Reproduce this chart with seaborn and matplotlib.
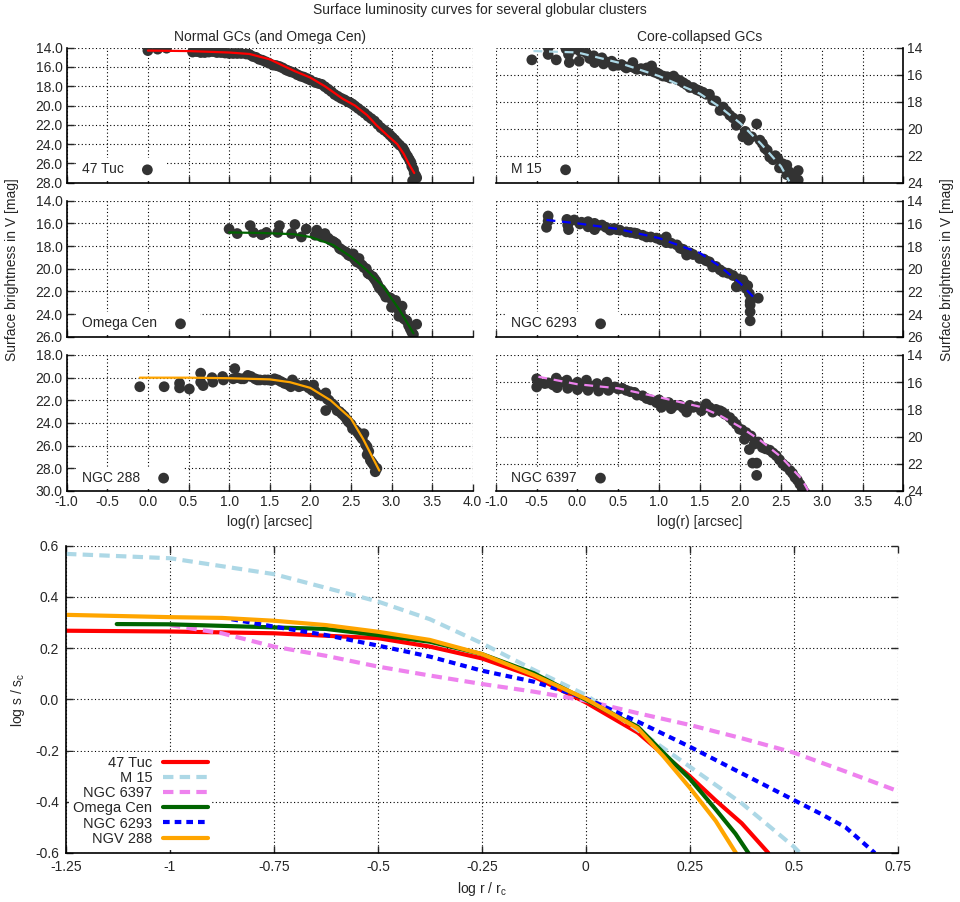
import matplotlib
matplotlib.use("Agg")
import matplotlib.pyplot as plt
import seaborn as sns

# === surface brightness profiles (log r [arcsec], mu_V [mag]) ===
tuc47_r = [0.0, 0.12, 0.23, 0.6, 0.7, 0.8, 0.9, 1.0, 1.1, 1.21, 1.29, 1.37, 1.45, 1.54,
           1.62, 1.7, 1.76, 1.88, 1.96, 2.06, 2.14, 2.22, 2.3, 2.38, 2.49, 2.55, 2.63,
           2.71, 2.79, 2.87, 2.95, 3.01, 3.07, 3.14, 3.18, 3.22, 3.25, 3.28, 3.26, 3.31,
           0.55, 0.65, 0.75, 0.85, 0.95, 1.05, 1.15, 1.25, 1.33, 1.41, 1.49, 1.58, 1.66,
           1.73, 1.8, 1.84, 1.92, 2.0, 2.1, 2.18, 2.26, 2.34, 2.42, 2.46, 2.52, 2.59, 2.67,
           2.75, 2.83, 2.91, 2.98, 3.04, 3.1, 3.16, 3.2, 3.24, 3.27, 3.3]
tuc47_mu = [14.3, 14.15, 14.05, 14.4, 14.5, 14.4, 14.5, 14.6, 14.6, 14.65, 14.9, 15.2, 15.45,
            15.8, 15.95, 16.3, 16.5, 16.95, 17.2, 17.6, 17.8, 18.3, 18.85, 19.25, 19.7,
            20.05, 20.55, 21.1, 21.6, 22.3, 22.8, 23.3, 23.85, 24.4, 25.05, 25.6, 26.3,
            27.0, 27.8, 27.5,
            14.45, 14.5, 14.45, 14.5, 14.55, 14.6, 14.6, 14.7, 15.0, 15.3, 15.6, 15.85, 16.1,
            16.4, 16.6, 16.8, 17.05, 17.35, 17.7, 18.05, 18.55, 19.05, 19.4, 19.6, 19.85,
            20.3, 20.8, 21.35, 21.95, 22.55, 23.05, 23.55, 24.1, 24.7, 25.3, 25.9, 26.6, 27.3]
tuc47_fit_r = [0.0, 0.5, 1.0, 1.25, 1.5, 1.65, 1.8, 2.0, 2.18, 2.4, 2.55, 2.7, 2.81, 2.95,
               3.07, 3.15, 3.21, 3.28]
tuc47_fit_mu = [14.3, 14.35, 14.5, 14.65, 15.2, 15.8, 16.4, 17.1, 18.0, 19.3, 20.0, 21.0,
                22.0, 23.1, 24.0, 25.0, 26.0, 27.0]

omega_r = [1.0, 1.1, 1.26, 1.3, 1.4, 1.46, 1.6, 1.62, 1.77, 1.81, 1.89, 1.95, 2.06, 2.08,
           2.14, 2.18, 2.22, 2.28, 2.32, 2.36, 2.43, 2.47, 2.53, 2.55, 2.6, 2.64, 2.69,
           2.71, 2.77, 2.81, 2.85, 2.89, 2.93, 2.99, 3.0, 3.05, 3.09, 3.13, 3.15, 3.19,
           3.23, 3.31, 3.25,
           2.25, 2.3, 2.38, 2.45, 2.5, 2.57, 2.62, 2.66, 2.73, 2.79, 2.83, 2.87, 2.91, 2.96,
           3.02, 3.07, 3.11, 3.17, 3.21, 3.27]
omega_mu = [16.5, 16.9, 16.2, 16.8, 17.0, 16.8, 16.8, 16.2, 16.9, 16.1, 17.2, 16.5, 17.05,
            16.6, 17.2, 16.9, 17.3, 17.6, 17.8, 18.2, 18.5, 18.8, 18.7, 19.2, 19.1, 19.7,
            20.0, 20.4, 20.7, 21.1, 21.7, 22.0, 22.5, 22.6, 23.4, 22.8, 24.2, 23.3, 24.4,
            24.6, 25.3, 24.9, 25.6,
            17.5, 17.7, 18.3, 18.6, 18.9, 19.4, 19.6, 19.9, 20.5, 20.9, 21.4, 21.8, 22.2,
            22.5, 23.0, 23.5, 23.9, 24.5, 25.0, 25.8]
omega_fit_r = [1.0, 1.4, 1.79, 2.0, 2.28, 2.5, 2.69, 2.9, 3.1, 3.27]
omega_fit_mu = [16.8, 16.85, 16.95, 17.2, 17.9, 18.94, 20.1, 21.6, 23.65, 25.7]

ngc288_r = [-0.1, 0.2, 0.39, 0.39, 0.51, 0.65, 0.65, 0.68, 0.79, 0.8, 0.92, 0.93, 1.07,
            1.05, 1.15, 1.23, 1.32, 1.35, 1.44, 1.56, 1.64, 1.76, 1.78, 1.86, 1.94, 2.02,
            2.04, 2.1, 2.19, 2.19, 2.23, 2.27, 2.33, 2.39, 2.47, 2.52, 2.58, 2.64, 2.66,
            2.68, 2.7, 2.7, 2.74, 2.78, 2.8,
            1.1, 1.18, 1.27, 1.38, 1.48, 1.52, 1.6, 1.68, 1.72, 1.82, 1.9, 1.98, 2.06, 2.14,
            2.21, 2.3, 2.36, 2.42, 2.45, 2.5, 2.55, 2.6, 2.62, 2.72, 2.76, 2.82]
ngc288_mu = [20.8, 20.8, 20.5, 20.9, 21.0, 19.6, 20.4, 20.7, 20.0, 20.4, 19.9, 20.2, 19.2,
             20.1, 20.1, 19.8, 20.1, 20.2, 20.2, 20.1, 20.35, 20.8, 20.2, 20.8, 20.65,
             21.1, 20.65, 21.5, 21.35, 22.9, 22.0, 22.3, 22.9, 23.2, 23.9, 24.5, 24.8,
             25.4, 24.95, 25.9, 26.1, 26.8, 27.3, 27.7, 28.3,
             20.0, 20.1, 19.9, 20.2, 20.2, 20.25, 20.2, 20.5, 20.6, 20.55, 20.7, 20.9, 21.2,
             21.6, 21.9, 22.5, 23.0, 23.4, 23.7, 24.1, 24.6, 25.0, 25.2, 26.5, 27.5, 28.0]
ngc288_fit_r = [-0.1, 0.5, 1.0, 1.5, 1.75, 2.0, 2.25, 2.5, 2.65, 2.75, 2.85]
ngc288_fit_mu = [20.0, 20.0, 20.05, 20.15, 20.4, 20.9, 22.0, 23.6, 25.4, 26.8, 28.2]

m15_r = [-0.56, -0.36, -0.36, -0.26, -0.14, -0.11, -0.1, -0.04, 0.02, 0.03, 0.11, 0.2,
         0.21, 0.3, 0.32, 0.42, 0.44, 0.54, 0.6, 0.68, 0.73, 0.85, 0.91, 0.97, 1.05, 1.18,
         1.26, 1.38, 1.5, 1.62, 1.66, 1.75, 1.87, 1.95, 2.0, 2.03, 2.1, 2.2, 2.24, 2.3,
         2.36, 2.4, 2.46, 2.48, 2.57, 2.57, 2.63, 2.71, 2.71,
         0.15, 0.25, 0.35, 0.45, 0.5, 0.58, 0.65, 0.7, 0.78, 0.82, 0.88, 0.94, 1.0, 1.1,
         1.14, 1.22, 1.3, 1.34, 1.42, 1.46, 1.54, 1.58, 1.7, 1.79, 1.83, 1.91, 1.98, 2.06,
         2.14, 2.27, 2.33, 2.43, 2.52, 2.6, 2.66]
m15_mu = [14.9, 14.0, 14.5, 14.9, 14.1, 14.5, 15.1, 14.1, 15.0, 14.25, 14.4, 14.6, 15.1,
          14.75, 15.2, 15.0, 15.35, 15.25, 15.5, 15.1, 15.6, 15.5, 15.35, 15.85, 16.1,
          16.1, 16.45, 16.95, 17.2, 17.45, 17.9, 18.65, 19.0, 19.75, 19.3, 20.6, 20.85,
          19.65, 20.85, 21.45, 22.1, 22.3, 22.2, 22.9, 22.7, 23.4, 24.0, 23.1, 23.8,
          14.8, 14.9, 15.05, 15.2, 15.3, 15.4, 15.4, 15.5, 15.55, 15.65, 15.7, 15.8, 15.95,
          16.15, 16.25, 16.35, 16.6, 16.75, 16.95, 17.1, 17.3, 17.45, 17.95, 18.4, 18.7,
          19.2, 19.5, 20.2, 20.6, 21.1, 21.6, 22.0, 22.6, 23.2, 23.6]
m15_fit_r = [-0.54, 0.0, 0.5, 1.0, 1.5, 1.75, 2.0, 2.25, 2.5, 2.6]
m15_fit_mu = [14.25, 14.35, 15.1, 16.1, 17.4, 18.4, 19.6, 21.1, 22.8, 23.9]

ngc6293_r = [-0.36, -0.36, -0.38, -0.13, -0.12, -0.11, -0.04, 0.03, 0.13, 0.13, 0.21, 0.21,
             0.3, 0.4, 0.48, 0.6, 0.73, 0.85, 0.97, 1.09, 1.09, 1.22, 1.26, 1.34, 1.38,
             1.5, 1.62, 1.66, 1.79, 1.91, 1.95, 2.03, 2.07, 2.11, 2.12, 2.12, 2.12, 2.12,
             2.22,
             0.05, 0.18, 0.25, 0.35, 0.45, 0.52, 0.65, 0.7, 0.8, 0.9, 1.02, 1.15, 1.3, 1.42,
             1.55, 1.58, 1.7, 1.75, 1.85, 1.98, 2.05, 2.09]
ngc6293_mu = [15.35, 15.8, 16.35, 15.65, 16.15, 16.55, 15.7, 16.05, 15.85, 16.3, 16.0,
              16.55, 16.15, 16.6, 16.55, 16.75, 16.9, 17.2, 17.3, 17.2, 17.7, 17.9, 18.2,
              18.8, 18.6, 19.1, 19.4, 19.85, 20.3, 20.6, 21.6, 21.0, 21.75, 22.2, 22.9,
              23.2, 23.8, 24.6, 22.6,
              15.9, 16.1, 16.2, 16.35, 16.45, 16.6, 16.8, 16.85, 17.05, 17.2, 17.45, 17.75,
              18.3, 18.75, 19.15, 19.3, 19.8, 20.1, 20.4, 20.9, 21.3, 21.5]
ngc6293_fit_r = [-0.38, 0.0, 0.5, 1.0, 1.5, 1.75, 2.0, 2.2]
ngc6293_fit_mu = [15.7, 16.0, 16.5, 17.3, 18.6, 19.8, 21.3, 22.8]

ngc6397_r = [-0.5, -0.5, -0.36, -0.26, -0.25, -0.13, -0.12, 0.0, 0.0, 0.11, 0.13, 0.24,
             0.26, 0.36, 0.38, 0.46, 0.6, 0.73, 0.85, 0.97, 1.03, 1.09, 1.15, 1.26, 1.34,
             1.38, 1.46, 1.52, 1.58, 1.62, 1.66, 1.75, 1.81, 1.91, 1.99, 2.05, 2.07, 2.11,
             2.13, 2.15, 2.2, 2.2, 2.17, 2.27, 2.36, 2.44, 2.52, 2.61, 2.67, 2.73, 2.79,
             -0.4, -0.3, -0.2, -0.05, 0.05, 0.18, 0.3, 0.42, 0.5, 0.55, 0.65, 0.7, 0.8, 0.9,
             1.0, 1.12, 1.2, 1.3, 1.42, 1.55, 1.7, 1.78, 1.87, 1.95, 2.02, 2.09, 2.22, 2.31,
             2.4, 2.48, 2.56, 2.64, 2.7, 2.76]
ngc6397_mu = [15.75, 16.35, 16.05, 15.7, 16.4, 15.85, 16.45, 16.0, 16.55, 15.85, 16.6,
              16.1, 16.65, 16.0, 16.6, 16.35, 16.6, 16.95, 17.2, 17.5, 17.85, 17.6, 17.95,
              17.7, 18.2, 17.7, 17.8, 18.1, 17.6, 17.85, 18.2, 18.1, 18.35, 18.85, 19.45,
              20.2, 19.7, 20.95, 19.95, 21.95, 21.95, 22.85, 20.55, 20.8, 21.0, 21.4, 22.0,
              22.5, 23.0, 23.5, 24.1,
              16.1, 16.2, 16.0, 16.2, 16.3, 16.3, 16.35, 16.4, 16.5, 16.45, 16.7, 16.75,
              17.0, 17.3, 17.3, 17.5, 17.7, 17.9, 17.85, 17.9, 18.0, 18.2, 18.6, 19.1, 19.5,
              19.9, 20.4, 20.9, 21.2, 21.7, 22.2, 22.7, 23.2, 23.8]
ngc6397_fit_r = [-0.48, 0.0, 0.5, 1.0, 1.5, 1.75, 2.0, 2.25, 2.5, 2.75, 2.83]
ngc6397_fit_mu = [15.6, 16.15, 16.45, 17.1, 17.8, 18.45, 19.3, 20.3, 21.5, 23.1, 23.95]

# === normalised profiles (log r/r_c, log s/s_c) ===
tuc47_x = [-1.25, -1.0, -0.75, -0.5, -0.375, -0.25, -0.125, 0.0, 0.125, 0.1875, 0.25,
           0.3125, 0.375, 0.439]
tuc47_y = [0.268, 0.265, 0.258, 0.239, 0.206, 0.16, 0.089, -0.012, -0.13, -0.217, -0.3,
           -0.395, -0.484, -0.6]
m15_x = [-1.25, -1.0, -0.75, -0.5, -0.375, -0.25, -0.125, 0.0, 0.125, 0.25, 0.375, 0.5, 0.515]
m15_y = [0.568, 0.551, 0.489, 0.382, 0.313, 0.219, 0.115, 0.017, -0.12, -0.263, -0.406,
         -0.575, -0.6]
ngc6397_x = [-1.0, -0.875, -0.75, -0.625, -0.5, -0.375, -0.25, -0.125, 0.0, 0.125, 0.25,
             0.375, 0.5, 0.625, 0.75]
ngc6397_y = [0.29, 0.258, 0.206, 0.17, 0.128, 0.093, 0.06, 0.03, -0.005, -0.054, -0.1,
             -0.152, -0.208, -0.282, -0.358]
omega_x = [-1.128, -1.0, -0.75, -0.625, -0.5, -0.375, -0.25, -0.125, 0.0, 0.125, 0.1875,
           0.25, 0.3125, 0.36, 0.391]
omega_y = [0.294, 0.293, 0.281, 0.275, 0.251, 0.225, 0.177, 0.102, -0.002, -0.107, -0.21,
           -0.31, -0.43, -0.525, -0.6]
ngc6293_x = [-0.852, -0.75, -0.625, -0.5, -0.375, -0.25, -0.125, 0.0, 0.125, 0.25, 0.375,
             0.5, 0.5625, 0.625, 0.695]
ngc6293_y = [0.313, 0.284, 0.251, 0.21, 0.167, 0.112, 0.069, 0.004, -0.087, -0.185, -0.289,
             -0.393, -0.445, -0.5, -0.6]
ngc288_x = [-1.25, -1.0, -0.875, -0.75, -0.625, -0.5, -0.375, -0.25, -0.125, 0.0, 0.125,
            0.1875, 0.25, 0.3125, 0.361]
ngc288_y = [0.33, 0.321, 0.318, 0.307, 0.29, 0.264, 0.232, 0.177, 0.095, 0.002, -0.113,
            -0.224, -0.345, -0.475, -0.6]

sns.set_theme(style="white")
plt.rcParams['font.family'] = ['Liberation Sans', 'DejaVu Sans']
plt.rcParams['mathtext.fontset'] = 'custom'
plt.rcParams['mathtext.rm'] = 'Liberation Sans'
plt.rcParams['mathtext.it'] = 'Liberation Sans'
plt.rcParams['font.size'] = 10

dot_color = "#333333"
grid_kw = dict(color="black", linestyle=(0, (1, 2.2)), linewidth=0.8)

fig = plt.figure(figsize=(9.6, 9.02), dpi=100)
W, H = 960.0, 902.0


def add_axes(px_left, px_top, px_right, px_bottom):
    return fig.add_axes([px_left / W, 1 - px_bottom / H,
                         (px_right - px_left) / W, (px_bottom - px_top) / H])


panels = [
    # (r, mu, fit_r, fit_mu, name, color, dashed, ylim, column, row)
    (tuc47_r, tuc47_mu, tuc47_fit_r, tuc47_fit_mu, "47 Tuc", "red", False, (14, 28), 0, 0),
    (omega_r, omega_mu, omega_fit_r, omega_fit_mu, "Omega Cen", "darkgreen", False, (14, 26), 0, 1),
    (ngc288_r, ngc288_mu, ngc288_fit_r, ngc288_fit_mu, "NGC 288", "orange", False, (18, 30), 0, 2),
    (m15_r, m15_mu, m15_fit_r, m15_fit_mu, "M 15", "lightblue", True, (14, 24), 1, 0),
    (ngc6293_r, ngc6293_mu, ngc6293_fit_r, ngc6293_fit_mu, "NGC 6293", "blue", True, (14, 26), 1, 1),
    (ngc6397_r, ngc6397_mu, ngc6397_fit_r, ngc6397_fit_mu, "NGC 6397", "violet", True, (14, 24), 1, 2),
]
col_x = [(66.7, 472.7), (496.0, 903.3)]
row_y = [(47.7, 182.7), (200.7, 336.7), (355.0, 491.0)]

for r, mu, fr, fmu, name, color, dashed, ylim, col, row in panels:
    ax = add_axes(col_x[col][0], row_y[row][0], col_x[col][1], row_y[row][1])
    sns.scatterplot(x=r, y=mu, ax=ax, color=dot_color, s=60, edgecolor="none",
                    label=name, zorder=2)
    sns.lineplot(x=fr, y=fmu, ax=ax, sort=False, estimator=None, color=color,
                 linewidth=1.6, zorder=3)
    if dashed:
        ax.lines[-1].set_linestyle((0, (4, 3)))
    ax.set_xlim(-1.0, 4.0)
    ax.set_ylim(ylim[1], ylim[0])
    ax.set_xticks([-1.0 + 0.5 * i for i in range(11)])
    ax.set_yticks(list(range(ylim[0], ylim[1] + 1, 2)))
    ax.grid(True, **grid_kw)
    ax.set_axisbelow(True)
    ax.tick_params(direction="in", length=5, width=1.0, labelsize=10, pad=3)
    if col == 0:
        ax.set_yticklabels([f"{v:.1f}" for v in ax.get_yticks()])
        ax.spines["right"].set_visible(False)
        ax.tick_params(left=True, right=False)
    else:
        ax.set_yticklabels([f"{int(v)}" for v in ax.get_yticks()])
        ax.spines["left"].set_visible(False)
        ax.tick_params(left=False, right=True, labelleft=False, labelright=True)
    ax.spines["top"].set_visible(False)
    for s in ("left", "right", "bottom"):
        ax.spines[s].set_linewidth(1.2)
        ax.spines[s].set_color("black")
    ax.tick_params(bottom=True)
    if row == 2:
        ax.set_xticklabels([f"{v:.1f}" for v in ax.get_xticks()])
        ax.set_xlabel("log(r) [arcsec]", fontsize=10, labelpad=4)
    else:
        ax.set_xticklabels([])
        ax.set_xlabel("")
    ax.set_ylabel("")
    if row == 0:
        ax.set_title("Normal GCs (and Omega Cen)" if col == 0 else "Core-collapsed GCs",
                     fontsize=10, pad=5)
    leg = ax.legend(loc="lower left", bbox_to_anchor=(0.022, 0.0), markerfirst=False,
                    frameon=True, fontsize=10, facecolor="white", edgecolor="none",
                    framealpha=1, fancybox=False, borderaxespad=0.15, handletextpad=0.6,
                    borderpad=0.3, handlelength=2.2)
    leg.set_zorder(4)

# === bottom panel: normalised profiles ===
ax = add_axes(66.0, 545.7, 897.7, 853.0)
curves = [
    (tuc47_x, tuc47_y, "47 Tuc", "red", None),
    (m15_x, m15_y, "M 15", "lightblue", (2.5, 1.5)),
    (ngc6397_x, ngc6397_y, "NGC 6397", "violet", (2.5, 1.5)),
    (omega_x, omega_y, "Omega Cen", "darkgreen", None),
    (ngc6293_x, ngc6293_y, "NGC 6293", "blue", (1.6, 1.2)),
    (ngc288_x, ngc288_y, "NGV 288", "orange", None),
]
for x, y, name, color, dash in curves:
    sns.lineplot(x=x, y=y, ax=ax, sort=False, estimator=None, color=color,
                 linewidth=3.0, label=name)
    if dash is not None:
        ax.lines[-1].set_linestyle((0, dash))

ax.set_xlim(-1.25, 0.75)
ax.set_ylim(-0.6, 0.6)
xt = [-1.25, -1.0, -0.75, -0.5, -0.25, 0.0, 0.25, 0.5, 0.75]
ax.set_xticks(xt)
ax.set_xticklabels(["-1.25", "-1", "-0.75", "-0.5", "-0.25", "0", "0.25", "0.5", "0.75"])
yt = [-0.6, -0.4, -0.2, 0.0, 0.2, 0.4, 0.6]
ax.set_yticks(yt)
ax.set_yticklabels([f"{v:.1f}" for v in yt])
ax.grid(True, **grid_kw)
ax.set_axisbelow(True)
ax.tick_params(direction="in", length=5, width=1.0, labelsize=10, pad=5,
               top=True, right=True, bottom=True, left=True)
ax.spines["top"].set_visible(False)
ax.spines["right"].set_visible(False)
for s in ("left", "bottom"):
    ax.spines[s].set_linewidth(1.2)
    ax.spines[s].set_color("black")
ax.set_xlabel("log r / r$_\\mathrm{c}$", fontsize=10, labelpad=4)
ax.set_ylabel("log s / s$_\\mathrm{c}$", fontsize=10, labelpad=6)
leg = ax.legend(loc="lower left", markerfirst=False, frameon=True, fontsize=10.5,
                facecolor="white", edgecolor="none", framealpha=1, fancybox=False,
                handlelength=3.1, labelspacing=0.08, borderaxespad=0.2,
                handletextpad=0.7, borderpad=0.3)
leg.set_zorder(4)

fig.text(0.5, 1 - 10 / H, "Surface luminosity curves for several globular clusters",
         ha="center", va="center", fontsize=10)
fig.text(12 / W, 1 - 270 / H, "Surface brightness in V [mag]", rotation=90,
         ha="center", va="center", fontsize=10)
fig.text(947 / W, 1 - 270 / H, "Surface brightness in V [mag]", rotation=90,
         ha="center", va="center", fontsize=10)

fig.savefig("out.png", dpi=100, facecolor="white")
